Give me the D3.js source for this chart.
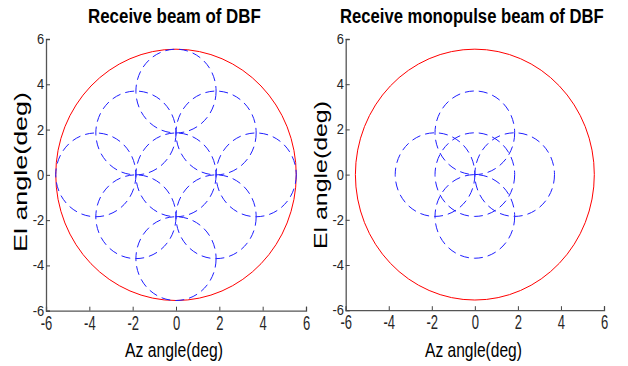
<!DOCTYPE html>
<html>
<head>
<meta charset="utf-8">
<script src="https://cdn.jsdelivr.net/npm/d3@7"></script>
<style>
  html, body { margin: 0; padding: 0; background: #fff; }
  svg { display: block; }
  text { font-family: "Liberation Sans", Arial, sans-serif; }
</style>
</head>
<body>
<svg id="chart" width="628" height="366"></svg>
<script>
// ---- data ----
const axisTicks = [-6, -4, -2, 0, 2, 4, 6];
const axisDomain = [-6, 6];
const coverageRadius = 5.55;           // red coverage circle (deg)
const beamRadius = 1.85;               // blue beam circles (deg)
// Left panel: receive beams of DBF (beam centre Az / El, deg)
const dbfAz = [0, 0, 0, -3.7, 3.7, -1.85, 1.85, -1.85, 1.85];
const dbfEl = [0, 3.7, -3.7, 0, 0, 1.85, 1.85, -1.85, -1.85];
// Right panel: receive monopulse beams of DBF
const monoAz = [0, 0, 0, -1.85, 1.85];
const monoEl = [0, 1.85, -1.85, 0, 0];
const titles = ["Receive beam of DBF", "Receive monopulse beam of DBF"];
const xLabel = "Az angle(deg)";
const yLabel = "El angle(deg)";

// ---- layout ----
const panels = [
  { x0: 46, x1: 306, y0: 310.7, y1: 39, az: dbfAz, el: dbfEl, title: titles[0],
    titleX: 88, titleW: 173, xlX: 125, xlW: 98, ylX: 26.7, ylY: 252, ylW: 160 },
  { x0: 345.7, x1: 604, y0: 310.2, y1: 39, az: monoAz, el: monoEl, title: titles[1],
    titleX: 340, titleW: 264, xlX: 425, xlW: 97, ylX: 327, ylY: 249, ylW: 148 }
];

const svg = d3.select("#chart");
svg.append("rect").attr("width", 628).attr("height", 366).attr("fill", "#fff");

// place a text squeezed horizontally to a target width
function fitText(sel, x, y, w) {
  const nat = sel.node().getComputedTextLength();
  sel.attr("transform", `translate(${x},${y}) scale(${w / nat},1)`);
}

panels.forEach(p => {
  const x = d3.scaleLinear().domain(axisDomain).range([p.x0, p.x1]);
  const y = d3.scaleLinear().domain(axisDomain).range([p.y0, p.y1]);
  const g = svg.append("g");

  // red coverage circle
  g.append("ellipse")
    .attr("cx", x(0)).attr("cy", y(0))
    .attr("rx", x(coverageRadius) - x(0))
    .attr("ry", y(0) - y(coverageRadius))
    .attr("fill", "none").attr("stroke", "#ff0000").attr("stroke-width", 1);

  // blue beams
  g.selectAll("ellipse.beam").data(d3.range(p.az.length)).join("ellipse")
    .attr("class", "beam")
    .attr("cx", i => x(p.az[i])).attr("cy", i => y(p.el[i]))
    .attr("rx", x(beamRadius) - x(0))
    .attr("ry", y(0) - y(beamRadius))
    .attr("fill", "none").attr("stroke", "#1f1fff").attr("stroke-width", 1)
    .attr("stroke-dasharray", "9,5");

  // axes
  const xAxis = d3.axisBottom(x).tickValues(axisTicks).tickSize(-4).tickPadding(4)
    .tickFormat(d => String(d));
  const yAxis = d3.axisLeft(y).tickValues(axisTicks).tickSize(-4).tickPadding(2)
    .tickFormat(d => String(d));

  const gx = g.append("g").attr("transform", `translate(0,${p.y0})`).call(xAxis);
  const gy = g.append("g").attr("transform", `translate(${p.x0},0)`).call(yAxis);
  [gx, gy].forEach(a => {
    a.select(".domain").attr("stroke", "#555").attr("stroke-width", 1.3);
    a.selectAll(".tick line").attr("stroke", "#444");
  });
  gx.selectAll(".tick text")
    .attr("font-size", 21).attr("fill", "#262626")
    .attr("transform", "scale(0.62,1)");
  gy.selectAll(".tick text")
    .attr("font-size", 14).attr("fill", "#262626")
    .attr("transform", "scale(0.92,1)");

  // title
  const t = svg.append("text")
    .attr("font-size", 21).attr("font-weight", "bold").attr("fill", "#000")
    .text(p.title);
  fitText(t, p.titleX, 22.7, p.titleW);

  // x label
  const xl = svg.append("text")
    .attr("font-size", 20.5).attr("fill", "#000")
    .text(xLabel);
  fitText(xl, p.xlX, 356.5, p.xlW);

  // y label
  svg.append("text")
    .attr("transform", `translate(${p.ylX},${p.ylY}) rotate(-90)`)
    .attr("font-size", 18.5).attr("fill", "#000")
    .attr("textLength", p.ylW).attr("lengthAdjust", "spacingAndGlyphs")
    .text(yLabel);
});
</script>
</body>
</html>
